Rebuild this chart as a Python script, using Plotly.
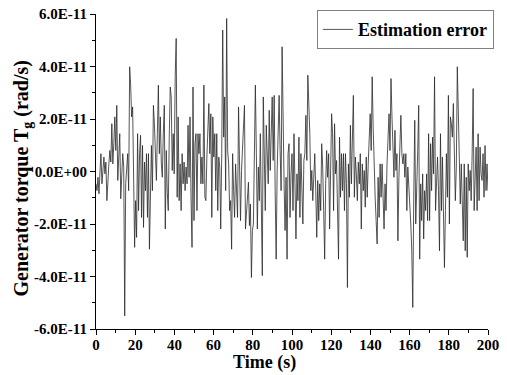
import numpy as np
import plotly.graph_objects as go

# Estimation error, in units of 1E-11 (approx. 0.5 s sampling)
seg1 = [-0.47, -0.73, -0.22, -0.85, -0.03, 0.68, -0.47, 0.17, 0.55, -0.09, 0.36, -1.11, -0.22, 0.29,
        0.80, 0.36, 1.82, 0.29, 1.06, 2.08, 0.80, 2.52, -0.34, 0.42, 1.44, -1.04, -0.22, 0.68, 0.17,
        -5.50, -0.47, 0.17, 0.68, -0.73, 3.99, 3.29, 2.08, 2.46, -0.47, -2.89, -1.11, -2.51]
seg2 = [1.44, -1.49, 0.68, 1.38, -1.75, 0.99, -2.13, 0.36, -0.73, 0.68, -1.75, 0.68, -2.96, -0.09,
        0.99, -0.73, 2.52, 1.82, 0.80, -0.34, 1.44, 3.29, 0.68, 2.08, 0.29, -0.22, 1.44, 2.52, -2.19,
        0.80, -0.79, -1.49, 1.31, 3.22, 2.84, 0.04, 1.44, -0.09]
seg3 = [3.61, 5.07, -0.98, 2.08, -1.11, 0.29, -1.49, 0.68, -0.47, 0.36, -0.73, 0.17, -0.47, 1.76,
        -0.22, 2.08, -0.98, -2.89, 3.22, -1.87, 1.06, 1.44, -1.49, 1.44, 0.68, 1.44, -0.47, 0.55,
        -0.47, 3.29, -0.98, -1.11, 0.55, 1.69, 2.59, 0.68, 2.20, -1.75, 2.08, 0.55]
seg4 = [1.44, -0.73, 1.44, -1.49, 0.55, 0.17, -2.19, 0.68, 5.39, 1.31, 2.84, -0.73, 5.83, 0.80,
        0.29, -1.49, -1.11, -2.96, 0.68, -0.73, -1.75, 0.29, -1.11, -1.75, 2.46, -0.47, -1.87, 0.04,
        1.06, 2.08, 2.52, -2.19, -1.49, -1.11, -0.41, -2.06, -1.24, -4.04, -2.25, -2.00, 0.68]
seg5 = [3.29, 0.68, -2.19, 0.17, -1.11, 1.44, -1.49, -3.97, 2.84, 1.06, -1.49, 1.76, 0.68, -0.47,
        2.33, 0.04, 1.44, 2.84, 0.42, 2.90, -0.73, -3.34, 0.04, 1.82, 2.90, 0.80, -0.73, 4.75, 1.06,
        -0.47, -2.25, -0.22, -3.34, 0.68, 1.06, -1.75, -0.09, 0.68, -1.49, 1.44, -0.47]
seg6 = [-2.57, -0.09, -1.11, 1.31, -1.75, 0.68, -0.47, -2.00, 0.42, 0.68, 2.14, 0.42, 3.67, 2.84,
        1.44, -0.73, 0.04, -1.11, 0.29, 0.68, -0.73, -2.51, -0.34, -1.87, -0.47, -1.49, 1.06, 0.17,
        -1.49, -3.34, -0.47, 0.80, -0.22, 0.68, -2.19, 0.42, 2.20, 1.44, -1.49]
seg7 = [1.82, -0.09, 0.42, -1.11, -3.34, 1.31, -0.98, 0.68, -0.73, 0.68, -1.49, 0.68, -0.47, -4.42,
        0.29, -0.98, 1.76, -0.47, 1.06, 2.90, -0.98, 0.55, -0.09, -1.11, 0.36, -0.47, 0.68, -2.19,
        0.29, -0.73, 0.04, -1.36, 0.55, -0.98, 0.29, 1.44, 2.20, 0.80, 3.61, 1.69]
seg8 = [-0.22, -0.98, -1.87, -2.76, -0.22, -1.75, 0.29, -0.98, 0.29, -0.98, -2.19, -0.47, -1.49,
        0.29, 1.38, 2.20, 0.80, 3.54, 2.08, 0.80, -0.22, 1.57, 0.04, 0.68, -2.64, -0.22, 1.06, 2.14,
        0.68, 0.29, 0.68, -0.22, 0.68, -1.49, 0.17, -0.47, -1.49, -2.00, -3.02, -5.18, -0.98]
seg9 = [1.95, -2.00, -0.98, 0.80, 2.52, -3.34, -0.47, -1.87, -0.09, -2.57, -0.73, -1.49, -0.09,
        -1.87, 1.44, -1.87, 1.06, -0.73, 1.31, -0.09, 3.61, -1.49, -0.47, 0.55, -0.73, -3.02, 1.44,
        -1.49, 0.55, -2.00, -3.66, -1.49, 0.68, -0.98, 2.90, -2.00, 2.08, 1.82, 1.31, 2.59]
seg10 = [-0.22, -1.11, 0.17, 3.99, 2.33, 0.29, -1.24, 0.29, -1.11, -2.64, 0.29, -3.02, -0.22, -3.27,
         0.29, -0.73, 0.04, -1.11, 0.68, 3.16, -1.49, -0.09, 0.93, -1.49, 1.44, -1.11, 0.93, -0.09,
         -0.34, 0.68, -0.98, 0.99, -0.73, 0.29, -0.73]

err_e11 = seg1 + seg2 + seg3 + seg4 + seg5 + seg6 + seg7 + seg8 + seg9 + seg10
err = np.array(err_e11) * 1e-11
t = np.linspace(0, 200, len(err))

y_tickvals = [-6e-11, -4e-11, -2e-11, 0, 2e-11, 4e-11, 6e-11]
y_ticktext = ["-6.0E-11", "-4.0E-11", "-2.0E-11", "0.0E+00", "2.0E-11", "4.0E-11", "6.0E-11"]
x_tickvals = [0, 20, 40, 60, 80, 100, 120, 140, 160, 180, 200]
x_ticktext = [str(v) for v in x_tickvals]
x_title = "Time (s)"
y_title = "Generator torque T<sub>g</sub> (rad/s)"

FONT = "Liberation Serif, Times New Roman, serif"

fig = go.Figure()
fig.add_trace(go.Scatter(x=t, y=err, mode="lines", name="Estimation error",
                         line=dict(color="#2a2a2a", width=0.8)))

fig.update_layout(
    width=507, height=375,
    margin=dict(l=96, r=19, t=14, b=46, autoexpand=False),
    paper_bgcolor="white", plot_bgcolor="white",
    font=dict(family=FONT, color="black", weight="bold"),
    showlegend=True,
    legend=dict(x=1.015, y=1.012, xanchor="right", yanchor="top",
                bordercolor="#808080", borderwidth=1, bgcolor="white",
                font=dict(family=FONT, size=18, color="black", weight="bold"),
                itemwidth=30, tracegroupgap=0),
    xaxis=dict(range=[0, 200], tickmode="array", tickvals=x_tickvals, ticktext=x_ticktext,
               automargin=False,
               ticks="outside", ticklen=5, tickwidth=1, tickcolor="black",
               showline=True, linecolor="black", linewidth=1, showgrid=False, zeroline=False,
               minor=dict(ticks="outside", ticklen=3, tickcolor="black", dtick=10, tick0=0),
               ticklabelstandoff=-3,
               tickfont=dict(family=FONT, size=15, color="black", weight="bold")),
    yaxis=dict(range=[-6e-11, 6e-11], tickmode="array", tickvals=y_tickvals, ticktext=y_ticktext,
               automargin=False,
               ticks="outside", ticklen=5, tickwidth=1, tickcolor="black",
               showline=True, linecolor="black", linewidth=1, showgrid=False, zeroline=False,
               minor=dict(ticks="outside", ticklen=3, tickcolor="black", dtick=1e-11, tick0=0),
               tickfont=dict(family=FONT, size=15, color="black", weight="bold")),
    annotations=[
        dict(text=x_title, xref="paper", yref="paper", x=0.43, y=0, xanchor="center",
             yanchor="middle", yshift=-33, showarrow=False,
             font=dict(family=FONT, size=18, color="black", weight="bold")),
        dict(text=y_title, xref="paper", yref="paper", x=0, y=0.5, xanchor="center",
             yanchor="middle", xshift=-74, yshift=-7, textangle=-90, showarrow=False,
             font=dict(family=FONT, size=20, color="black", weight="bold")),
    ],
)

fig.write_html("out.html")
